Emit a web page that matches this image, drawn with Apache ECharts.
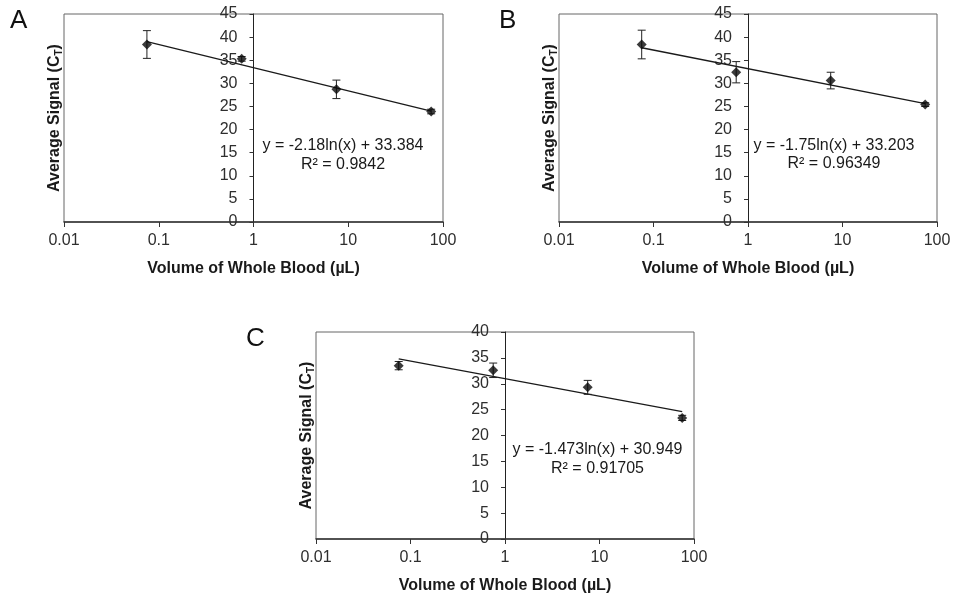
<!DOCTYPE html>
<html>
<head>
<meta charset="utf-8">
<script src="https://cdn.jsdelivr.net/npm/echarts@6/dist/echarts.min.js"></script>
<style>
  html, body { margin: 0; padding: 0; background: #fff; }
  #chart { width: 954px; height: 597px; }
</style>
</head>
<body>
<div id="chart"></div>
<script>
// volumes of whole blood (uL), shared by the three panels
var volumes = [0.075, 0.75, 7.5, 75];

// panel A
var meanA = [38.4, 35.3, 28.7, 23.9];
var errA = [3.0, 0.5, 2.0, 0.5];
// panel B
var meanB = [38.4, 32.4, 30.6, 25.4];
var errB = [3.1, 2.3, 1.8, 0.4];
// panel C
var meanC = [33.5, 32.6, 29.3, 23.4];
var errC = [0.8, 1.4, 1.35, 0.5];

// trendline end points
var trendX = [0.075, 75];
var trendA = [39.0, 24.0];
var trendB = [37.7, 25.6];
var trendC = [34.8, 24.6];

var equations = [
  ['y = -2.18ln(x) + 33.384', 'R\u00b2 = 0.9842'],
  ['y = -1.75ln(x) + 33.203', 'R\u00b2 = 0.96349'],
  ['y = -1.473ln(x) + 30.949', 'R\u00b2 = 0.91705']
];
var panelLabels = ['A', 'B', 'C'];
var yMax = [45, 45, 40];

var font = 'Liberation Sans, Arial, sans-serif';
var myChart = echarts.init(document.getElementById('chart'));

var grids = [
  {left: 64, top: 14, width: 379, height: 208},
  {left: 559, top: 14, width: 378, height: 208},
  {left: 316, top: 332, width: 378, height: 207}
];

var xAxes = [], yAxes = [], series = [];
var sets = [[meanA, errA, trendA], [meanB, errB, trendB], [meanC, errC, trendC]];

grids.forEach(function (g, i) {
  g.show = true;
  g.borderColor = '#666';
  g.borderWidth = 1;
  g.containLabel = false;

  xAxes.push({
    type: 'log', logBase: 10, min: 0.01, max: 100, gridIndex: i,
    name: 'Volume of Whole Blood (\u00b5L)',
    nameLocation: 'middle', nameGap: 39,
    nameTextStyle: {fontFamily: font, fontSize: 16, fontWeight: 'bold', color: '#1a1a1a'},
    axisLine: {show: true, onZero: false, lineStyle: {color: '#333', width: 1.5}},
    axisTick: {show: true, length: 5, lineStyle: {color: '#333'}},
    minorTick: {show: false},
    splitLine: {show: false},
    axisLabel: {fontFamily: font, fontSize: 16, color: '#2e2e2e', margin: 11}
  });

  // main y axis, crossing at x = 1
  yAxes.push({
    type: 'value', min: 0, max: yMax[i], interval: 5, gridIndex: i,
    position: 'left', offset: -g.width / 2,
    axisLine: {show: true, onZero: false, lineStyle: {color: '#222', width: 1}},
    axisTick: {show: true, length: 4, lineStyle: {color: '#333'}},
    splitLine: {show: false},
    axisLabel: {fontFamily: font, fontSize: 16, color: '#2e2e2e', margin: 16}
  });
});

// hidden y axes at the grid edge, only to carry the title
grids.forEach(function (g, i) {
  yAxes.push({
    type: 'value', min: 0, max: yMax[i], gridIndex: i, position: 'left',
    name: '{b|Average Signal (C}{s|T}{b|)}',
    nameLocation: 'middle', nameGap: 0,
    nameTextStyle: {
      rich: {
        b: {fontFamily: font, fontSize: 16, fontWeight: 'bold', color: '#1a1a1a'},
        s: {fontFamily: font, fontSize: 10, fontWeight: 'bold', color: '#1a1a1a', padding: [9, 0, 0, 0]}
      }
    },
    axisLine: {show: false}, axisTick: {show: false},
    axisLabel: {show: false}, splitLine: {show: false}
  });
});

sets.forEach(function (s, i) {
  var mean = s[0], err = s[1], trend = s[2];
  series.push({
    type: 'line', xAxisIndex: i, yAxisIndex: i,
    data: trendX.map(function (x, k) { return [x, trend[k]]; }),
    showSymbol: false, silent: true,
    lineStyle: {color: '#1a1a1a', width: 1.3}, z: 2
  });
  series.push({
    type: 'custom', xAxisIndex: i, yAxisIndex: i,
    data: volumes.map(function (v, k) { return [v, mean[k], err[k]]; }),
    renderItem: function (params, api) {
      var x = api.value(0), m = api.value(1), e = api.value(2);
      var hi = api.coord([x, m + e]);
      var lo = api.coord([x, m - e]);
      var w = 4;
      var st = {stroke: '#222', lineWidth: 1};
      return {
        type: 'group',
        children: [
          {type: 'line', shape: {x1: hi[0], y1: hi[1], x2: lo[0], y2: lo[1]}, style: st},
          {type: 'line', shape: {x1: hi[0] - w, y1: hi[1], x2: hi[0] + w, y2: hi[1]}, style: st},
          {type: 'line', shape: {x1: lo[0] - w, y1: lo[1], x2: lo[0] + w, y2: lo[1]}, style: st}
        ]
      };
    },
    z: 3
  });
  series.push({
    type: 'scatter', xAxisIndex: i, yAxisIndex: i,
    data: volumes.map(function (v, k) { return [v, mean[k]]; }),
    symbol: 'diamond', symbolSize: 10,
    itemStyle: {color: '#0a0a0a'}, z: 4
  });
});

var eqPos = [[343, 146, 164.5], [834, 145.5, 163.5], [597.5, 449.5, 469]];
var labelPos = [[10, 8], [499, 8], [246, 326]];
var graphics = [];
eqPos.forEach(function (p, i) {
  graphics.push({type: 'text', x: p[0], y: p[1],
    style: {text: equations[i][0], font: '16px ' + font, fill: '#1a1a1a', align: 'center', verticalAlign: 'middle'}});
  graphics.push({type: 'text', x: p[0], y: p[2],
    style: {text: equations[i][1], font: '16px ' + font, fill: '#1a1a1a', align: 'center', verticalAlign: 'middle'}});
});
labelPos.forEach(function (p, i) {
  graphics.push({type: 'text', x: p[0], y: p[1],
    style: {text: panelLabels[i], font: '26px ' + font, fill: '#111'}});
});

var option = {
  backgroundColor: '#fff',
  animation: false,
  grid: grids,
  xAxis: xAxes,
  yAxis: yAxes,
  series: series,
  graphic: graphics
};

myChart.setOption(option);
</script>
</body>
</html>
